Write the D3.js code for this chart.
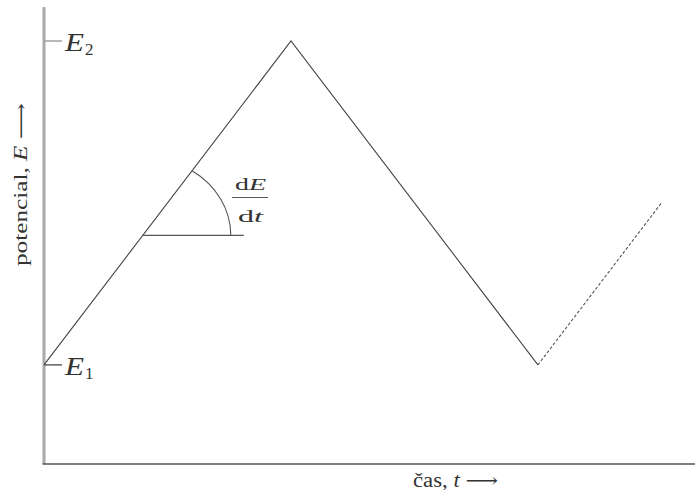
<!DOCTYPE html>
<html>
<head>
<meta charset="utf-8">
<script src="https://cdn.jsdelivr.net/npm/d3@7"></script>
<style>
  body { margin: 0; background: #fff; }
  svg { display: block; }
  text { font-family: "Liberation Serif", "DejaVu Serif", serif; fill: #333; }
  .arrow { font-family: "DejaVu Serif", "DejaVu Sans", serif; }
</style>
</head>
<body>
<svg id="chart" width="695" height="490"></svg>
<script>
// Triangular potential sweep: time (arbitrary units) vs potential (E1 = 0, E2 = 1)
const sweepTimes = [0, 1, 2];
const sweepPotentials = [0, 1, 0];
// Continuation of the next sweep (dashed)
const nextTimes = [2, 2.5];
const nextPotentials = [0, 0.5];
// Potential levels marked on the vertical axis
const levelValues = [0, 1];
const levelNames = ["1", "2"];
// Point on the rising edge where the slope dE/dt is marked
const slopeTime = 0.4;

const svg = d3.select("#chart");

const x = d3.scaleLinear().domain([0, 2.636]).range([44, 695]);
const y = d3.scaleLinear().domain([-0.306, 1.105]).range([464, 7]);

// Axes
svg.append("line")
  .attr("x1", x(0)).attr("x2", x(0))
  .attr("y1", y(1.105)).attr("y2", y(-0.306))
  .attr("stroke", "#aaa").attr("stroke-width", 3);
svg.append("line")
  .attr("x1", x(0) - 1.5).attr("x2", x(2.636))
  .attr("y1", y(-0.306)).attr("y2", y(-0.306))
  .attr("stroke", "#555").attr("stroke-width", 1.6);

// Level ticks and labels E1, E2
levelValues.forEach((v, i) => {
  svg.append("line")
    .attr("x1", x(0)).attr("x2", x(0) + 18)
    .attr("y1", y(v)).attr("y2", y(v))
    .attr("stroke", i === 1 ? "#999" : "#555").attr("stroke-width", 1.4);
  const t = svg.append("text")
    .attr("x", x(0) + 21).attr("y", y(v) + 10)
    .attr("font-size", 25);
  t.append("tspan").attr("font-style", "italic")
    .attr("textLength", 19).attr("lengthAdjust", "spacingAndGlyphs").text("E");
  t.append("tspan").attr("font-size", 17).attr("dy", 4).attr("dx", 1).text(levelNames[i]);
});

// Potential sweep
const line = d3.line().x(d => x(d[0])).y(d => y(d[1]));
svg.append("path")
  .datum(d3.zip(sweepTimes, sweepPotentials))
  .attr("d", line)
  .attr("fill", "none").attr("stroke", "#444").attr("stroke-width", 1.1);
svg.append("path")
  .datum(d3.zip(nextTimes, nextPotentials))
  .attr("d", line)
  .attr("fill", "none").attr("stroke", "#555").attr("stroke-width", 1.1)
  .attr("stroke-dasharray", "3,2");

// Slope marker: horizontal reference, angle arc and dE/dt label
const sx = x(slopeTime), sy = y(slopeTime);
svg.append("line")
  .attr("x1", sx).attr("x2", sx + 101)
  .attr("y1", sy).attr("y2", sy)
  .attr("stroke", "#555").attr("stroke-width", 1.1);
const rx = 88, ry = 78;
const a = Math.atan2(y(0) - y(1), x(1) - x(0));
const L = 1 / Math.sqrt((Math.cos(a) / rx) ** 2 + (Math.sin(a) / ry) ** 2);
svg.append("path")
  .attr("d", `M${sx + rx},${sy} A${rx},${ry} 0 0 0 ${sx + L * Math.cos(a)},${sy - L * Math.sin(a)}`)
  .attr("fill", "none").attr("stroke", "#555").attr("stroke-width", 1.1);

const num = svg.append("text").attr("x", 235).attr("y", 190)
  .attr("font-size", 17).attr("textLength", 31).attr("lengthAdjust", "spacingAndGlyphs");
num.append("tspan").text("d");
num.append("tspan").attr("font-style", "italic").text("E");
svg.append("line")
  .attr("x1", 232).attr("x2", 268)
  .attr("y1", 197.5).attr("y2", 197.5)
  .attr("stroke", "#555").attr("stroke-width", 1.1);
const den = svg.append("text").attr("x", 238).attr("y", 221.5)
  .attr("font-size", 17).attr("textLength", 25).attr("lengthAdjust", "spacingAndGlyphs");
den.append("tspan").text("d");
den.append("tspan").attr("font-style", "italic").text("t");

// Axis titles
const yt = svg.append("text")
  .attr("transform", "translate(27,266) rotate(-90)")
  .attr("font-size", 18).attr("textLength", 163).attr("lengthAdjust", "spacingAndGlyphs");
yt.append("tspan").text("potencial, ");
yt.append("tspan").attr("font-style", "italic").text("E");
yt.append("tspan").text(" ");
yt.append("tspan").attr("class", "arrow").text("\u27F6");

const xt = svg.append("text")
  .attr("x", 413).attr("y", 487)
  .attr("font-size", 20).attr("textLength", 85).attr("lengthAdjust", "spacingAndGlyphs");
xt.append("tspan").text("\u010Das, ");
xt.append("tspan").attr("font-style", "italic").text("t");
xt.append("tspan").text(" ");
xt.append("tspan").attr("class", "arrow").text("\u27F6");
</script>
</body>
</html>
